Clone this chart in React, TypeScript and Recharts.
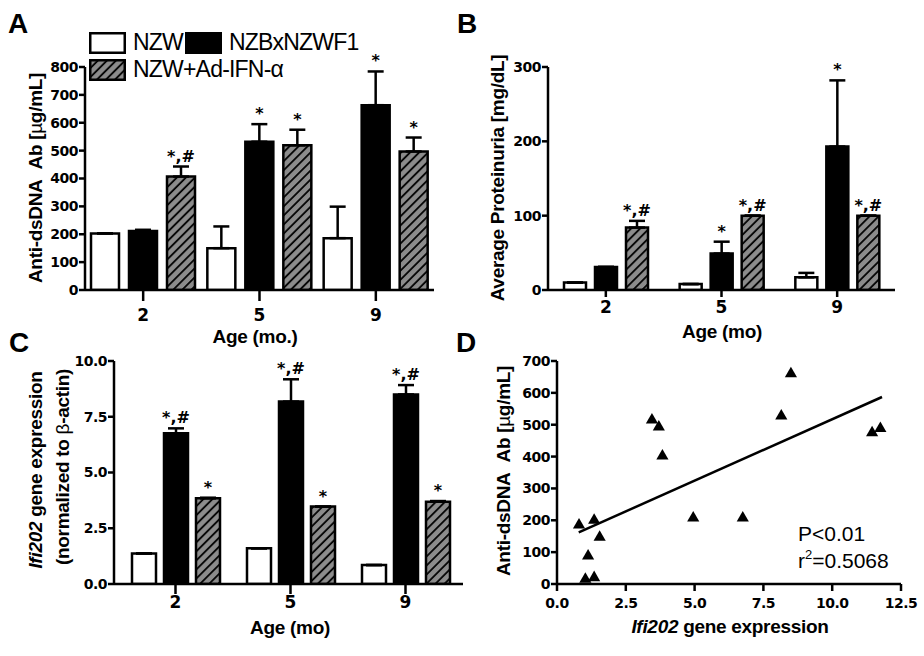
import React from "react";
import {
  BarChart,
  Bar,
  XAxis,
  YAxis,
  ErrorBar,
  LabelList,
  Legend,
  ScatterChart,
  Scatter,
  ZAxis,
  ReferenceLine,
} from "recharts";

const ages = ["2", "5", "9"];

// A: anti-dsDNA Ab (ug/mL), mean and upper SEM
const dnaNzw = [203, 150, 186];
const dnaNzwSem = [0, 78, 113];
const dnaF1 = [212, 532, 663];
const dnaF1Sem = [4, 63, 121];
const dnaIfn = [407, 519, 497];
const dnaIfnSem = [36, 56, 50];
const dnaF1Sig = ["", "*", "*"];
const dnaIfnSig = ["*,#", "*", "*"];
const dnaTicks = [0, 100, 200, 300, 400, 500, 600, 700, 800];

// B: average proteinuria (mg/dL)
const protNzw = [10, 8, 17];
const protNzwSem = [0, 0, 6];
const protF1 = [31, 49, 193];
const protF1Sem = [0, 16, 89];
const protIfn = [84, 100, 100];
const protIfnSem = [9, 0, 0];
const protF1Sig = ["", "*", "*"];
const protIfnSig = ["*,#", "*,#", "*,#"];
const protTicks = [0, 100, 200, 300];

// C: Ifi202 expression normalized to beta-actin
const ifiNzw = [1.37, 1.6, 0.85];
const ifiNzwSem = [0, 0, 0];
const ifiF1 = [6.76, 8.18, 8.5];
const ifiF1Sem = [0.22, 1.0, 0.42];
const ifiIfn = [3.84, 3.47, 3.69];
const ifiIfnSem = [0.03, 0, 0.03];
const ifiF1Sig = ["*,#", "*,#", "*,#"];
const ifiIfnSig = ["*", "*", "*"];
const ifiTicks = [0, 2.5, 5, 7.5, 10];

// D: Ifi202 vs anti-dsDNA
const corrX = [0.8, 1.35, 1.55, 1.13, 1.03, 1.35, 3.45, 3.7, 3.83, 4.95, 6.75, 8.15, 8.5, 11.45, 11.75];
const corrY = [185, 200, 147, 88, 15, 20, 515, 493, 402, 207, 207, 527, 660, 475, 488];
const fitX = [0.79, 11.81];
const fitY = [162, 587];
const corrTicksX = [0, 2.5, 5, 7.5, 10, 12.5];
const corrTicksY = [0, 100, 200, 300, 400, 500, 600, 700];

const names = ["NZW", "NZBxNZWF1", "NZW+Ad-IFN-\u03b1"];

const SANS = "'Liberation Sans', Arial, sans-serif";
const DEJA = "'DejaVu Sans', sans-serif";
const titleStyle: React.CSSProperties = {
  fontFamily: SANS,
  fontWeight: "bold",
  fontSize: 19,
  letterSpacing: -0.3,
  fill: "#000",
};
const yTick = { fill: "#000", fontFamily: DEJA, fontWeight: "bold", fontSize: 14, letterSpacing: -0.5 };
const xTick = { fill: "#000", fontFamily: DEJA, fontWeight: "bold", fontSize: 17 };
const axisLine = { stroke: "#000", strokeWidth: 2.5 };

type Series = {
  key: string;
  name: string;
  fill: string;
  vals: number[];
  sem: number[];
  sig?: string[];
};

const makeRows = (series: Series[]) =>
  ages.map((age, i) => {
    const r: any = { age };
    series.forEach((s) => {
      r[s.key] = s.vals[i];
      r[s.key + "Sem"] = [0, s.sem[i]];
    });
    return r;
  });

// significance marks sit just above the error bar cap
const sigLabel = (s: Series) => (p: any) => {
  const i = p.index;
  const txt = s.sig ? s.sig[i] : "";
  if (!txt) return null;
  const vb = p.viewBox && p.viewBox.width != null ? p.viewBox : p;
  const x = +vb.x;
  const y = +vb.y;
  const w = +vb.width;
  const h = +vb.height;
  const top = s.vals[i] ? y - (s.sem[i] * h) / s.vals[i] : y;
  return (
    <text
      x={x + w / 2}
      y={top - 5}
      textAnchor="middle"
      fontFamily={DEJA}
      fontWeight="bold"
      fontSize={16}
      fill="#000"
    >
      {txt}
    </text>
  );
};

const vTitle = (lines: React.ReactNode[], xs: number[], cys: number[]) => () => (
  <g>
    {lines.map((l, i) => (
      <text
        key={i}
        x={xs[i]}
        y={cys[i]}
        transform={`rotate(-90 ${xs[i]} ${cys[i]})`}
        textAnchor="middle"
        dominantBaseline="central"
        style={titleStyle}
      >
        {l}
      </text>
    ))}
  </g>
);

const hTitle = (content: React.ReactNode, cx: number, cy: number) => () => (
  <text x={cx} y={cy} textAnchor="middle" dominantBaseline="central" style={titleStyle}>
    {content}
  </text>
);

const Hatch = ({ id }: { id: string }) => (
  <defs>
    <pattern id={id} width={6.4} height={6.4} patternUnits="userSpaceOnUse" patternTransform="rotate(45)">
      <rect width={6.4} height={6.4} fill="#8c8c8c" />
      <line x1={1} y1={0} x2={1} y2={6.4} stroke="#000" strokeWidth={1.8} />
    </pattern>
  </defs>
);

const legendContent = (series: Series[]) => () => (
  <div style={{ display: "flex", flexWrap: "wrap", width: 300, rowGap: 6, columnGap: 2 }}>
    {series.map((s) => (
      <div key={s.key} style={{ display: "flex", alignItems: "center", height: 21 }}>
        <svg width={37} height={22} style={{ display: "block" }}>
          <rect x={1.25} y={1.25} width={34.5} height={19.5} fill={s.fill} stroke="#000" strokeWidth={2.5} />
        </svg>
        <span
          style={{
            fontFamily: SANS,
            fontSize: 23,
            letterSpacing: -0.8,
            marginLeft: 7,
            lineHeight: "21px",
            color: "#000",
          }}
        >
          {s.name}
        </span>
      </div>
    ))}
  </div>
);

type PanelProps = {
  hatchId: string;
  left: number;
  top: number;
  width: number;
  height: number;
  margin: { top: number; right: number; bottom: number; left: number };
  yWidth: number;
  xHeight: number;
  domain: [number, number];
  ticks: number[];
  fmt?: (v: number) => string;
  barGap: number;
  catGap: number;
  xTickSize: number;
  xTickMargin: number;
  xPad?: number;
  series: Series[];
  yTitle: () => React.ReactElement;
  xTitle: () => React.ReactElement;
  legend?: boolean;
};

const BarPanel = (p: PanelProps) => {
  const series = p.series.map((s) => ({
    ...s,
    fill: s.fill === "hatch" ? `url(#${p.hatchId})` : s.fill,
  }));
  const rows = makeRows(series);
  return (
    <div style={{ position: "absolute", left: p.left, top: p.top }}>
      <BarChart
        width={p.width}
        height={p.height}
        data={rows}
        margin={p.margin}
        barGap={p.barGap}
        barCategoryGap={p.catGap}
      >
        <Hatch id={p.hatchId} />
        <XAxis
          dataKey="age"
          height={p.xHeight}
          axisLine={axisLine}
          tickLine={axisLine}
          tickSize={p.xTickSize}
          tickMargin={p.xTickMargin}
          tick={xTick}
          padding={{ left: p.xPad || 0, right: 0 }}
          label={p.xTitle}
        />
        <YAxis
          width={p.yWidth}
          domain={p.domain}
          ticks={p.ticks}
          interval={0}
          allowDataOverflow
          tickFormatter={p.fmt}
          axisLine={axisLine}
          tickLine={axisLine}
          tickSize={6}
          tickMargin={1}
          tick={yTick}
          label={p.yTitle}
        />
        {p.legend && (
          <Legend
            layout="vertical"
            align="center"
            verticalAlign="middle"
            wrapperStyle={{ left: 89, top: 32, width: 300, height: 50 }}
            content={legendContent(series)}
          />
        )}
        {series.map((s) => (
          <Bar
            key={s.key}
            dataKey={s.key}
            name={s.name}
            fill={s.fill}
            stroke="#000"
            strokeWidth={2.5}
            isAnimationActive={false}
          >
            <ErrorBar dataKey={s.key + "Sem"} direction="y" width={8} stroke="#000" strokeWidth={2.5} />
            {s.sig && <LabelList dataKey={s.key} content={sigLabel(s)} />}
          </Bar>
        ))}
      </BarChart>
    </div>
  );
};

const seriesA: Series[] = [
  { key: "nzw", name: names[0], fill: "#fff", vals: dnaNzw, sem: dnaNzwSem },
  { key: "f1", name: names[1], fill: "#000", vals: dnaF1, sem: dnaF1Sem, sig: dnaF1Sig },
  { key: "ifn", name: names[2], fill: "hatch", vals: dnaIfn, sem: dnaIfnSem, sig: dnaIfnSig },
];
const seriesB: Series[] = [
  { key: "nzw", name: names[0], fill: "#fff", vals: protNzw, sem: protNzwSem },
  { key: "f1", name: names[1], fill: "#000", vals: protF1, sem: protF1Sem, sig: protF1Sig },
  { key: "ifn", name: names[2], fill: "hatch", vals: protIfn, sem: protIfnSem, sig: protIfnSig },
];
const seriesC: Series[] = [
  { key: "nzw", name: names[0], fill: "#fff", vals: ifiNzw, sem: ifiNzwSem },
  { key: "f1", name: names[1], fill: "#000", vals: ifiF1, sem: ifiF1Sem, sig: ifiF1Sig },
  { key: "ifn", name: names[2], fill: "hatch", vals: ifiIfn, sem: ifiIfnSem, sig: ifiIfnSig },
];

const corrPts = corrX.map((x, i) => ({ x, y: corrY[i] }));

const dnaTitle = (
  <>
    Anti-dsDNA{"\u00a0\u00a0"}Ab [<tspan fontWeight="normal">{"\u00b5"}</tspan>g/mL]
  </>
);

export default function App() {
  return (
    <div
      style={{
        position: "absolute",
        left: 0,
        top: 0,
        width: 924,
        height: 656,
        background: "#fff",
        overflow: "hidden",
      }}
    >
      <BarPanel
        hatchId="hatchA"
        left={0}
        top={0}
        width={460}
        height={350}
        margin={{ top: 67, right: 26, bottom: 30, left: 10 }}
        yWidth={75}
        xHeight={30}
        domain={[0, 800]}
        ticks={dnaTicks}
        barGap={10}
        catGap={6}
        xTickSize={11}
        xTickMargin={8}
        series={seriesA}
        yTitle={vTitle([dnaTitle], [35], [178])}
        xTitle={hTitle("Age (mo.)", 255, 336)}
        legend
      />
      <BarPanel
        hatchId="hatchB"
        left={460}
        top={0}
        width={464}
        height={350}
        margin={{ top: 67, right: 29, bottom: 30, left: 10 }}
        yWidth={78}
        xHeight={30}
        domain={[0, 300]}
        ticks={protTicks}
        barGap={9}
        catGap={16}
        xTickSize={7}
        xTickMargin={4}
        series={seriesB}
        yTitle={vTitle(["Average Proteinuria [mg/dL]"], [37], [178])}
        xTitle={hTitle("Age (mo)", 262, 331)}
      />
      <BarPanel
        hatchId="hatchC"
        left={0}
        top={330}
        width={470}
        height={326}
        margin={{ top: 31, right: 7, bottom: 30, left: 10 }}
        yWidth={104}
        xHeight={42}
        domain={[0, 10]}
        ticks={ifiTicks}
        fmt={(v) => v.toFixed(1)}
        barGap={8}
        catGap={14}
        xTickSize={10}
        xTickMargin={2}
        xPad={4}
        series={seriesC}
        yTitle={vTitle(
          [
            <>
              <tspan fontStyle="italic">Ifi202</tspan> gene expression
            </>,
            <>
              (normalized to <tspan fontWeight="normal">{"\u03b2"}</tspan>-actin)
            </>,
          ],
          [35, 62],
          [140, 137]
        )}
        xTitle={hTitle("Age (mo)", 290, 297)}
      />
      <div style={{ position: "absolute", left: 460, top: 330 }}>
        <ScatterChart width={464} height={326} margin={{ top: 31, right: 23, bottom: 30, left: 10 }}>
          <XAxis
            type="number"
            dataKey="x"
            domain={[0, 12.5]}
            ticks={corrTicksX}
            interval={0}
            tickFormatter={(v: number) => v.toFixed(1)}
            height={42}
            axisLine={axisLine}
            tickLine={axisLine}
            tickSize={7}
            tickMargin={7}
            tick={yTick}
            label={hTitle(
              <>
                <tspan fontStyle="italic">Ifi202</tspan> gene expression
              </>,
              270,
              296
            )}
          />
          <YAxis
            type="number"
            dataKey="y"
            domain={[0, 700]}
            ticks={corrTicksY}
            interval={0}
            width={87}
            axisLine={axisLine}
            tickLine={axisLine}
            tickSize={6}
            tickMargin={1}
            tick={yTick}
            label={vTitle([dnaTitle], [43], [141])}
          />
          <ZAxis range={[80, 80]} />
          <ReferenceLine
            segment={[
              { x: fitX[0], y: fitY[0] },
              { x: fitX[1], y: fitY[1] },
            ]}
            stroke="#000"
            strokeWidth={2.5}
          />
          <Scatter data={corrPts} shape="triangle" fill="#000" isAnimationActive={false} />
        </ScatterChart>
      </div>
      <svg
        width={924}
        height={656}
        style={{ position: "absolute", left: 0, top: 0, pointerEvents: "none" }}
        fontFamily={SANS}
      >
        <text x={8} y={33} fontSize={28} fontWeight="bold">A</text>
        <text x={457} y={33} fontSize={28} fontWeight="bold">B</text>
        <text x={9} y={352} fontSize={28} fontWeight="bold">C</text>
        <text x={456} y={352} fontSize={28} fontWeight="bold">D</text>
        <text x={798} y={541} fontSize={21}>P&lt;0.01</text>
        <text x={798} y={568} fontSize={21}>
          r<tspan fontSize={13} dy={-9}>2</tspan>
          <tspan dy={9}>=0.5068</tspan>
        </text>
      </svg>
    </div>
  );
}
